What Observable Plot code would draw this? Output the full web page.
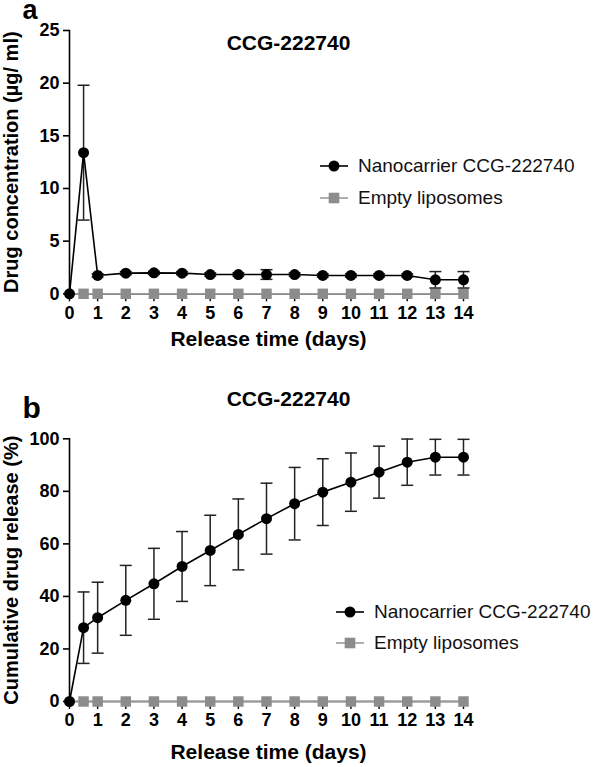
<!DOCTYPE html>
<html>
<head>
<meta charset="utf-8">
<script src="https://cdn.jsdelivr.net/npm/d3@7"></script>
<script src="https://cdn.jsdelivr.net/npm/@observablehq/plot@0.6"></script>
<style>
  html, body { margin: 0; padding: 0; background: #fff; }
  #wrap { position: relative; width: 598px; height: 767px; overflow: hidden; font-family: "Liberation Sans", Arial, sans-serif; }
  #wrap svg.plot-a, #wrap svg.plot-b { display: block; }
  .leg { position: absolute; display: flex; align-items: center; height: 24px; font-size: 19px; color: #111; white-space: nowrap; }
  .leg svg { display: block; flex: none; }
</style>
</head>
<body>
<div id="wrap"></div>
<script>
// ---- data ----
const days = [0, 0.5, 1, 2, 3, 4, 5, 6, 7, 8, 9, 10, 11, 12, 13, 14];
const dayTicks = [0, 1, 2, 3, 4, 5, 6, 7, 8, 9, 10, 11, 12, 13, 14];

const seriesNames = ["Nanocarrier CCG-222740", "Empty liposomes"];
const panelTitle = "CCG-222740";

// Panel a: drug concentration (µg/ml)
const concMean = [0, 13.4, 1.74, 1.96, 1.99, 1.96, 1.83, 1.83, 1.83, 1.83, 1.74, 1.74, 1.74, 1.74, 1.33, 1.33];
const concSD   = [0, 6.4, 0.15, 0.15, 0.15, 0.15, 0.15, 0.15, 0.46, 0.15, 0.15, 0.15, 0.15, 0.15, 0.78, 0.78];
const concEmpty = [0, 0, 0, 0, 0, 0, 0, 0, 0, 0, 0, 0, 0, 0, 0, 0];
const concTicks = [0, 5, 10, 15, 20, 25];

// Panel b: cumulative drug release (%)
const cumMean = [0, 28.1, 31.9, 38.5, 44.8, 51.4, 57.5, 63.6, 69.6, 75.3, 79.7, 83.5, 87.3, 91.1, 93.0, 93.0];
const cumSD   = [0, 13.6, 13.5, 13.3, 13.5, 13.3, 13.4, 13.5, 13.5, 13.8, 12.7, 11.1, 9.9, 8.8, 6.8, 6.8];
const cumEmpty = [0, 0, 0, 0, 0, 0, 0, 0, 0, 0, 0, 0, 0, 0, 0, 0];
const cumTicks = [0, 20, 40, 60, 80, 100];

// ---- styling ----
const FONT = "Liberation Sans, Arial, sans-serif";
const BLACK = "#000";
const ERR = "#222";
const GRAY_FILL = "#8c8c8c";
const GRAY_LINE = "#9c9c9c";

const capSymbol = {
  draw(ctx, size) {
    const r = Math.sqrt(size / Math.PI);
    ctx.moveTo(-r, 0);
    ctx.lineTo(r, 0);
  }
};

function panel(opts) {
  const nano = days.map((d, i) => ({x: d, m: opts.mean[i], s: opts.sd[i]}));
  const empty = days.map((d, i) => ({x: d, v: opts.empty[i]}));
  const errs = nano.filter(d => d.s > 0);
  const svg = Plot.plot({
    width: 598,
    height: opts.height,
    marginLeft: 69,
    marginRight: 135,
    marginTop: opts.marginTop,
    marginBottom: opts.marginBottom,
    style: {fontFamily: FONT, color: BLACK, background: "white", overflow: "visible"},
    x: {domain: [0, 14]},
    y: {domain: opts.domain},
    marks: [
      Plot.frame({anchor: "left", stroke: BLACK, strokeWidth: 1.6}),
      Plot.axisY({ticks: opts.ticks, tickSize: 6, tickPadding: 4, fontSize: 18, fontWeight: "bold", label: null, strokeWidth: 1.6}),
      Plot.axisX({ticks: dayTicks, tickSize: 8, tickPadding: 4, fontSize: 18, fontWeight: "bold", label: null, strokeWidth: 1.4, tickFormat: d => String(d)}),
      Plot.ruleY([0], {stroke: BLACK, strokeWidth: 1.4}),
      // empty liposomes
      Plot.line(empty, {x: "x", y: "v", stroke: GRAY_LINE, strokeWidth: 1.6}),
      Plot.dot(empty.filter(d => d.x > 0), {x: "x", y: "v", symbol: "square", r: 5.9, fill: GRAY_FILL, stroke: "none"}),
      // nanocarrier error bars
      Plot.ruleX(errs, {x: "x", y1: d => d.m - d.s, y2: d => d.m + d.s, stroke: ERR, strokeWidth: 1.5}),
      Plot.dot(errs, {x: "x", y: d => d.m + d.s, symbol: capSymbol, r: 6, stroke: ERR, strokeWidth: 1.5, fill: "none"}),
      Plot.dot(errs, {x: "x", y: d => d.m - d.s, symbol: capSymbol, r: 6, stroke: ERR, strokeWidth: 1.5, fill: "none"}),
      // nanocarrier line + points
      Plot.line(nano, {x: "x", y: "m", stroke: BLACK, strokeWidth: 1.6}),
      Plot.dot(nano, {x: "x", y: "m", r: 5.5, fill: BLACK, stroke: "none"}),
      // texts
      Plot.text([panelTitle], {frameAnchor: "top", textAnchor: "middle", dx: 22, dy: opts.titleDy, lineAnchor: "bottom", fontSize: 21, fontWeight: "bold", fill: BLACK}),
      Plot.text([opts.letter], {frameAnchor: "top-left", textAnchor: "start", dx: -47, dy: opts.letterDy, lineAnchor: "bottom", fontSize: opts.letterSize, fontWeight: "bold", fill: BLACK}),
      Plot.text(["Release time (days)"], {frameAnchor: "bottom", textAnchor: "middle", dx: 2, dy: opts.xTitleDy, lineAnchor: "bottom", fontSize: 21, fontWeight: "bold", fill: BLACK}),
      Plot.text([opts.yTitle], {frameAnchor: "left", textAnchor: "middle", rotate: -90, dx: -52, dy: 0, lineAnchor: "bottom", fontSize: 20, fontWeight: "bold", fill: BLACK})
    ]
  });
  svg.classList.add(opts.cls);
  return svg;
}

const wrap = document.getElementById("wrap");

wrap.appendChild(panel({
  cls: "plot-a", letter: "a", letterSize: 27, height: 365, marginTop: 30, marginBottom: 71.7,
  domain: [0, 25], ticks: concTicks, mean: concMean, sd: concSD, empty: concEmpty,
  titleDy: 19, letterDy: -12, xTitleDy: 51.7, yTitle: "Drug concentration (µg/ ml)"
}));
wrap.appendChild(panel({
  cls: "plot-b", letter: "b", letterSize: 30, height: 402, marginTop: 73.3, marginBottom: 66,
  domain: [0, 100], ticks: cumTicks, mean: cumMean, sd: cumSD, empty: cumEmpty,
  titleDy: -33.3, letterDy: -21.3, xTitleDy: 57, yTitle: "Cumulative drug release (%)"
}));

// ---- legends ----
function legendRow(left, cy, textLeft, kind, label) {
  const row = document.createElement("div");
  row.className = "leg";
  row.style.left = left + "px";
  row.style.top = (cy - 12) + "px";
  const w = textLeft - left;
  const ns = "http://www.w3.org/2000/svg";
  const s = document.createElementNS(ns, "svg");
  s.setAttribute("width", w);
  s.setAttribute("height", 24);
  const ln = document.createElementNS(ns, "line");
  ln.setAttribute("x1", 0); ln.setAttribute("x2", 28);
  ln.setAttribute("y1", 12); ln.setAttribute("y2", 12);
  ln.setAttribute("stroke", kind === "circle" ? BLACK : GRAY_LINE);
  ln.setAttribute("stroke-width", 1.6);
  s.appendChild(ln);
  if (kind === "circle") {
    const c = document.createElementNS(ns, "circle");
    c.setAttribute("cx", 14); c.setAttribute("cy", 12); c.setAttribute("r", 5.5);
    c.setAttribute("fill", BLACK);
    s.appendChild(c);
  } else {
    const r = document.createElementNS(ns, "rect");
    r.setAttribute("x", 8.7); r.setAttribute("y", 6.7); r.setAttribute("width", 10.6); r.setAttribute("height", 10.6);
    r.setAttribute("fill", GRAY_FILL);
    s.appendChild(r);
  }
  row.appendChild(s);
  const t = document.createElement("span");
  t.textContent = label;
  row.appendChild(t);
  wrap.appendChild(row);
}
legendRow(320, 166, 358, "circle", seriesNames[0]);
legendRow(320, 198, 358, "square", seriesNames[1]);
legendRow(336, 612, 374, "circle", seriesNames[0]);
legendRow(336, 643, 374, "square", seriesNames[1]);
</script>
</body>
</html>
